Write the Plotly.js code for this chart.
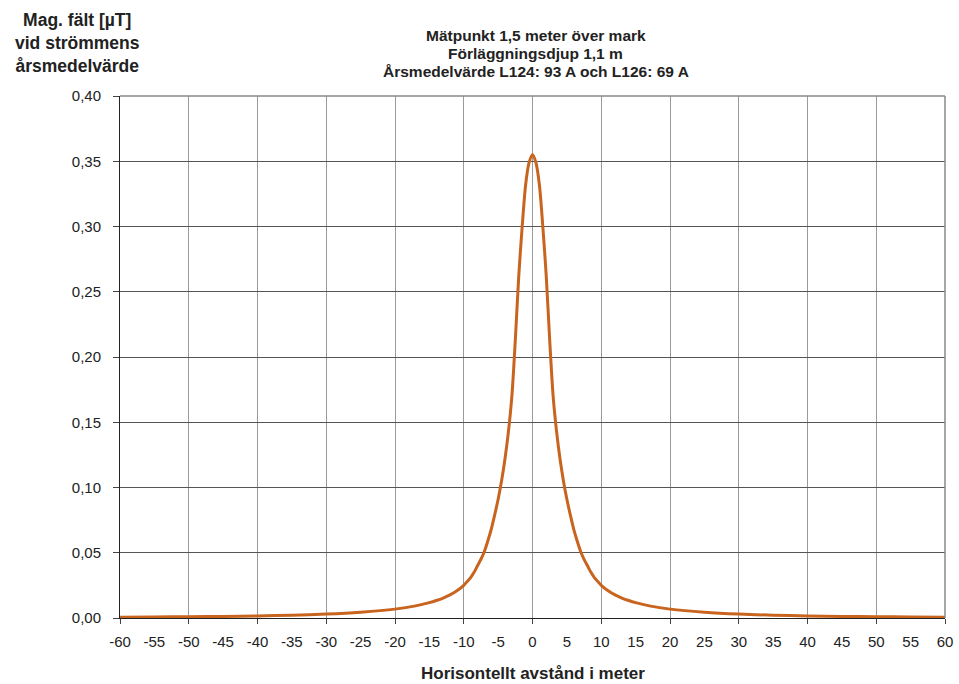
<!DOCTYPE html>
<html><head><meta charset="utf-8">
<script src="https://cdn.plot.ly/plotly-3.0.1.min.js"></script>
<style>html,body{margin:0;padding:0;background:#fff}#chart{width:959px;height:684px}</style>
</head><body><div id="chart"></div>
<script>
const distance = [-60,-55,-50,-45,-40,-35,-30,-25,-20,-17,-15,-14,-13,-12,-11,-10,-9.5,-9,-8.5,-8,-7.5,-7,-6.5,-6,-5.5,-5,-4.5,-4,-3.5,-3,-2.5,-2,-1.5,-1,-0.5,0,
  0.5,1,1.5,2,2.5,3,3.5,4,4.5,5,5.5,6,6.5,7,7.5,8,8.5,9,9.5,10,11,12,13,14,15,17,20,25,30,35,40,45,50,55,60];
const field = [0.0006,0.0008,0.0010,0.0012,0.0016,0.0022,0.0030,0.0044,0.0068,0.0093,0.0118,0.0134,0.0153,0.0177,0.0208,0.0250,0.0280,0.0310,0.0350,0.0400,0.0450,0.0510,0.0590,0.0680,0.0790,0.0910,0.1050,0.1220,0.1430,0.1700,0.2130,0.2620,0.3000,0.3320,0.3490,0.3550,
  0.3490,0.3320,0.3000,0.2620,0.2130,0.1700,0.1430,0.1220,0.1050,0.0910,0.0790,0.0680,0.0590,0.0510,0.0450,0.0400,0.0350,0.0310,0.0280,0.0250,0.0208,0.0177,0.0153,0.0134,0.0118,0.0093,0.0068,0.0044,0.0030,0.0022,0.0016,0.0012,0.0010,0.0008,0.0006];
const xLabelTicks = [-60,-55,-50,-45,-40,-35,-30,-25,-20,-15,-10,-5,0,5,10,15,20,25,30,35,40,45,50,55,60];
const xGridTicks = [-60,-50,-40,-30,-20,-10,0,10,20,30,40,50,60];
const yTicks = [0,0.05,0.10,0.15,0.20,0.25,0.30,0.35,0.40];
const yTickText = ["0,00","0,05","0,10","0,15","0,20","0,25","0,30","0,35","0,40"];
const titleLines = ["Mätpunkt 1,5 meter över mark","Förläggningsdjup 1,1 m","Årsmedelvärde L124: 93 A och L126: 69 A"];
const yTitle = ["Mag. fält [µT]","vid strömmens","årsmedelvärde"];
const xTitle = "Horisontellt avstånd i meter";

const font = "Liberation Sans, Arial, sans-serif";
const txt = '#222';
const titleY = [35, 53, 71];
const annotations = titleLines.map((t, i) => ({
  xref: 'paper', yref: 'paper', x: 0.5, xshift: 3, y: 1, yshift: 96 - titleY[i], yanchor: 'middle', xanchor: 'center',
  showarrow: false, text: '<b>' + t + '</b>', font: {size: 15.5, family: font, color: txt}
}));
annotations.push({xref: 'paper', yref: 'paper', x: 0, xshift: -43, y: 1, yshift: 96 - 43, yanchor: 'middle', xanchor: 'center', showarrow: false,
  text: '<b>' + yTitle.join('<br>') + '</b>', font: {size: 17.5, family: font, color: txt}, align: 'center'});
annotations.push({xref: 'paper', yref: 'paper', x: 0.5, y: 0, yshift: -55, yanchor: 'middle', xanchor: 'center', showarrow: false,
  text: '<b>' + xTitle + '</b>', font: {size: 17, family: font, color: txt}});

Plotly.newPlot('chart', [
  {x: distance, y: field, type: 'scatter', mode: 'lines', xaxis: 'x', yaxis: 'y',
   line: {color: '#C8641E', width: 3, shape: 'spline', smoothing: 0.8}, hoverinfo: 'skip'},
  {x: distance, y: field, type: 'scatter', mode: 'lines', xaxis: 'x2', yaxis: 'y',
   line: {color: 'rgba(0,0,0,0)', width: 0}, hoverinfo: 'skip'}
], {
  width: 959, height: 684,
  margin: {l: 120, r: 14, t: 96, b: 66},
  paper_bgcolor: '#fff', plot_bgcolor: '#fff',
  showlegend: false,
  font: {family: font, color: txt},
  xaxis: {
    range: [-60, 60], tickvals: xGridTicks, showticklabels: false,
    ticks: 'outside', ticklen: 5, tickcolor: '#444',
    showgrid: true, gridcolor: '#9a9a9a', gridwidth: 1,
    showline: true, linecolor: '#222', linewidth: 1,
    zeroline: false
  },
  xaxis2: {
    overlaying: 'x', anchor: 'y', side: 'bottom', matches: 'x',
    range: [-60, 60], tickvals: xLabelTicks, ticktext: xLabelTicks.map(String),
    ticks: '', showgrid: false, showline: false, zeroline: false,
    ticklabelstandoff: 13,
    tickfont: {size: 15, family: font, color: txt}
  },
  yaxis: {
    range: [0, 0.4], tickvals: yTicks, ticktext: yTickText,
    ticks: 'outside', ticklen: 6, tickcolor: '#444',
    showgrid: true, gridcolor: '#555', gridwidth: 1,
    showline: true, linecolor: '#222', linewidth: 1,
    zeroline: false, ticklabelstandoff: 9,
    tickfont: {size: 15, family: font, color: txt}
  },
  shapes: [
    {type: 'line', xref: 'paper', yref: 'paper', x0: 1, x1: 1, y0: 0, y1: 1, line: {color: '#888', width: 1.5}},
    {type: 'line', xref: 'paper', yref: 'paper', x0: 0, x1: 1, y0: 1, y1: 1, line: {color: '#888', width: 1.5}}
  ],
  annotations: annotations
}, {displayModeBar: false, staticPlot: true});
</script></body></html>
